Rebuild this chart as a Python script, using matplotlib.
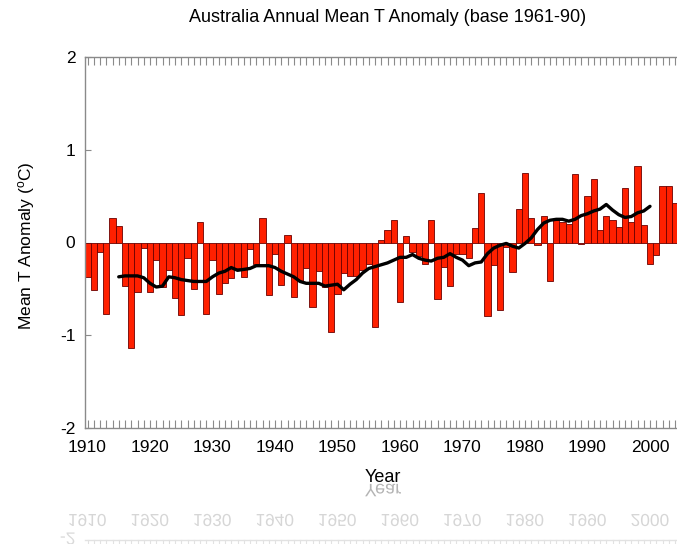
import matplotlib
matplotlib.use('Agg')
import matplotlib.pyplot as plt
from matplotlib.textpath import TextPath
from matplotlib.font_manager import FontProperties
from matplotlib.patches import PathPatch
from matplotlib.ticker import MultipleLocator, FixedLocator
import matplotlib.transforms as mtransforms

# ---------------- data ----------------
years = list(range(1910, 2005))
anomaly = [
    -0.37, -0.51, -0.10, -0.77, 0.26, 0.18, -0.47, -1.14, -0.53, -0.06,   # 1910s
    -0.53, -0.19, -0.48, -0.30, -0.60, -0.78, -0.17, -0.50, 0.22, -0.77,  # 1920s
    -0.19, -0.55, -0.44, -0.38, -0.28, -0.37, -0.07, -0.23, 0.26, -0.57,  # 1930s
    -0.12, -0.46, 0.08, -0.59, -0.41, -0.28, -0.70, -0.31, -0.48, -0.97,  # 1940s
    -0.55, -0.33, -0.36, -0.36, -0.30, -0.23, -0.91, 0.03, 0.14, 0.24,    # 1950s
    -0.64, 0.07, -0.10, -0.15, -0.23, 0.24, -0.61, -0.26, -0.47, -0.12,   # 1960s
    -0.12, -0.17, 0.16, 0.53, -0.79, -0.24, -0.73, -0.05, -0.32, 0.36,    # 1970s
    0.75, 0.26, -0.03, 0.29, -0.41, 0.24, 0.22, 0.20, 0.74, -0.02,        # 1980s
    0.50, 0.68, 0.13, 0.29, 0.24, 0.17, 0.59, 0.22, 0.83, 0.19,           # 1990s
    -0.23, -0.13, 0.61, 0.61, 0.43,                                       # 2000s
]
smooth_years = list(range(1915, 2001))
smooth = [
    -0.37, -0.36, -0.36, -0.36, -0.38,                                    # 1915-19
    -0.44, -0.48, -0.47, -0.37, -0.38, -0.40, -0.41, -0.42, -0.42, -0.42, # 1920s
    -0.37, -0.33, -0.31, -0.27, -0.30, -0.29, -0.28, -0.25, -0.25, -0.25, # 1930s
    -0.27, -0.31, -0.34, -0.37, -0.42, -0.44, -0.44, -0.44, -0.47, -0.46, # 1940s
    -0.45, -0.51, -0.45, -0.40, -0.33, -0.28, -0.26, -0.24, -0.22, -0.19, # 1950s
    -0.16, -0.16, -0.13, -0.17, -0.19, -0.20, -0.17, -0.16, -0.12, -0.16, # 1960s
    -0.19, -0.25, -0.22, -0.21, -0.12, -0.06, -0.03, -0.01, -0.04, -0.06, # 1970s
    -0.01, 0.05, 0.14, 0.21, 0.24, 0.25, 0.25, 0.23, 0.25, 0.29,          # 1980s
    0.31, 0.34, 0.36, 0.41, 0.35, 0.30, 0.27, 0.28, 0.32, 0.34,           # 1990s
    0.39,                                                                 # 2000
]
xtick_years = list(range(1910, 2001, 10))
ytick_vals = [-2, -1, 0, 1, 2]
title_text = "Australia Annual Mean T Anomaly (base 1961-90)"
xlabel_text = "Year"
ylabel_text = "Mean T Anomaly ($^{o}$C)"

# ---------------- style ----------------
plt.rcParams['font.family'] = ['Liberation Sans', 'DejaVu Sans']
plt.rcParams['mathtext.fontset'] = 'custom'
plt.rcParams['mathtext.rm'] = 'Liberation Sans'
plt.rcParams['mathtext.it'] = 'Liberation Sans'

W, H = 677, 544
fig = plt.figure(figsize=(W / 100, H / 100), dpi=100)
fig.patch.set_facecolor('white')

x0px, x1px = 85, 687.5
ytop, ybot = 57, 428
ax = fig.add_axes([x0px / W, 1 - ybot / H, (x1px - x0px) / W, (ybot - ytop) / H])
ax.set_xlim(1909.6, 2006)
ax.set_ylim(-2, 2)

ax.bar(years, anomaly, width=1.0, color='#ff2000', edgecolor='#6a0000',
       linewidth=0.6, zorder=2)
ax.plot(smooth_years, smooth, color='black', lw=2.4, zorder=3,
        solid_capstyle='round', solid_joinstyle='round')

spine_col = '#8a8a8a'
for s in ax.spines.values():
    s.set_color(spine_col)
    s.set_linewidth(1.0)
ax.spines['right'].set_visible(False)

ax.xaxis.set_major_locator(FixedLocator(xtick_years))
ax.xaxis.set_minor_locator(MultipleLocator(1))
ax.set_xticklabels([str(y) for y in xtick_years])
ax.tick_params(axis='x', which='both', direction='in', top=True, bottom=True,
               length=6, width=0.8, color=spine_col)
ax.tick_params(axis='x', which='major', labelsize=12.5, pad=9, labelcolor='black')

ax.yaxis.set_major_locator(FixedLocator(ytick_vals))
ax.set_yticklabels([str(v) for v in ytick_vals])
ax.tick_params(axis='y', which='major', direction='in', left=True, right=False,
               length=4, width=0.8, color=spine_col, labelsize=12.5, pad=7)

fig.text(388 / W, 1 - 18 / H, title_text, ha='center', va='center', fontsize=13)
fig.text(383 / W, 1 - 478 / H, xlabel_text, ha='center', va='center', fontsize=13)
fig.text(27 / W, 1 - 246 / H, ylabel_text, ha='center', va='center',
         rotation=90, fontsize=12.5)

# ---------------- reflection below the chart ----------------
ref_ax = fig.add_axes([0, 0, 1, 1], zorder=-1)
ref_ax.set_xlim(0, W)
ref_ax.set_ylim(H, 0)
ref_ax.axis('off')
mirror_y = 484
fp = FontProperties(family='Liberation Sans')

fig.canvas.draw()


def reflect_text(txt, size_pt, color):
    bb = txt.get_window_extent()
    cx = (bb.x0 + bb.x1) / 2
    cy = H - (bb.y0 + bb.y1) / 2
    tp = TextPath((0, 0), txt.get_text(), size=size_pt * 100 / 72, prop=fp)
    ext = tp.get_extents()
    ry = 2 * mirror_y - cy
    tr = mtransforms.Affine2D().translate(cx - (ext.x0 + ext.x1) / 2,
                                          ry - (ext.y0 + ext.y1) / 2)
    ref_ax.add_patch(PathPatch(tr.transform_path(tp), facecolor=color,
                               edgecolor='none', lw=0))


for lbl in ax.get_xticklabels():
    if lbl.get_text():
        reflect_text(lbl, 12.5, '#d6d6d6')
ylbls = ax.get_yticklabels()
reflect_text(ylbls[0], 12.5, '#dadada')
reflect_text(fig.texts[1], 13, '#b4b4b4')

# mirrored bottom spine with ticks
spine_y = 2 * mirror_y - ybot
ref_ax.plot([x0px, W], [spine_y, spine_y], color='#e2e2e2', lw=1.0)
for yr in range(1910, 2007):
    px = ax.transData.transform((yr, 0))[0]
    if px <= W:
        ref_ax.plot([px, px], [spine_y, spine_y + 6], color='#e2e2e2', lw=0.8)

fig.savefig('out.png', dpi=100, facecolor='white')
